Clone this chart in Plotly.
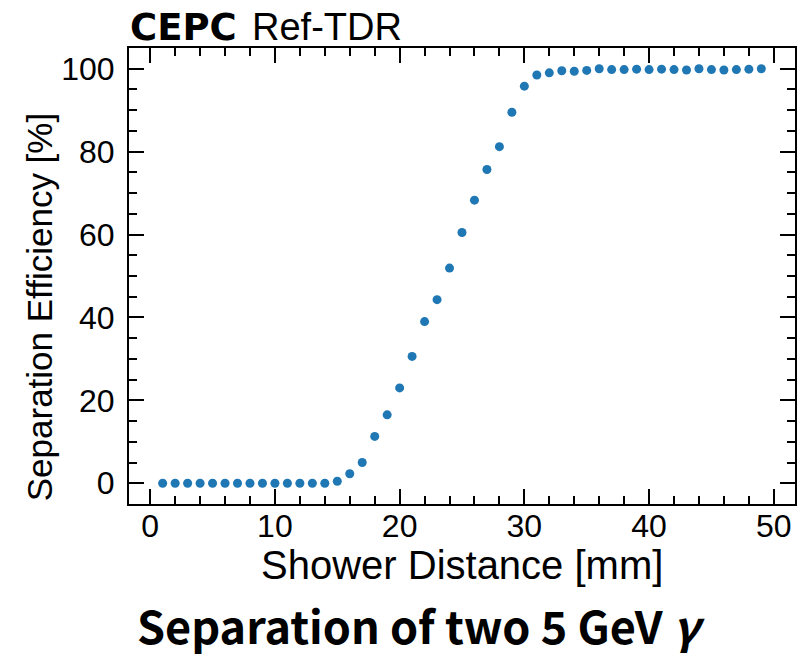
import plotly.graph_objects as go

distance_mm = list(range(1, 50))
efficiency_pct = [
    0.0, 0.0, 0.0, 0.0, 0.0, 0.0, 0.0, 0.0, 0.0, 0.0,
    0.0, 0.0, 0.0, 0.0, 0.5, 2.3, 5.0, 11.3, 16.5, 23.0,
    30.6, 39.0, 44.3, 51.9, 60.5, 68.3, 75.7, 81.2, 89.5, 95.8,
    98.5, 99.0, 99.5, 99.4, 99.6, 100.0, 99.8, 99.8, 99.9, 99.8,
    99.9, 99.8, 99.7, 100.0, 99.8, 99.7, 99.8, 99.9, 100.0,
]
x_ticks = [0, 10, 20, 30, 40, 50]
y_ticks = [0, 20, 40, 60, 80, 100]

W, H = 800, 656
L, R, T, B = 129, 797, 48, 504


def px(x):
    return (x - L) / (R - L)


def py(y):
    return (B - y) / (B - T)


fig = go.Figure()
fig.add_trace(go.Scatter(
    x=distance_mm, y=efficiency_pct, mode="markers",
    marker=dict(color="#1f77b4", size=9, line=dict(width=0)),
    showlegend=False,
))

tickfont = dict(family="Liberation Sans, Arial, sans-serif", size=32, color="black")
axis_common = dict(
    showline=True, linecolor="black", linewidth=2, mirror="allticks",
    ticks="inside", tickwidth=2, tickcolor="black",
    showgrid=False, zeroline=False, tickfont=tickfont,
)
fig.update_xaxes(
    range=[-1.7, 51.7], tickvals=x_ticks, ticklen=15,
    minor=dict(dtick=2, tick0=0, ticks="inside", ticklen=8, tickwidth=2, tickcolor="black", showgrid=False),
    ticklabelstandoff=-7,
    **axis_common,
)
fig.update_yaxes(
    range=[-5, 105], tickvals=y_ticks, ticklen=15,
    minor=dict(dtick=5, tick0=0, ticks="inside", ticklen=8, tickwidth=2, tickcolor="black", showgrid=False),
    ticklabelstandoff=6,
    **axis_common,
)

ann = []
ann.append(dict(text="<b>CEPC</b>", x=px(128), y=py(27), xref="paper", yref="paper",
                xanchor="left", yanchor="middle", showarrow=False,
                font=dict(family="DejaVu Sans, sans-serif", size=37, color="black")))
ann.append(dict(text="Ref-TDR", x=px(250), y=py(27), xref="paper", yref="paper",
                xanchor="left", yanchor="middle", showarrow=False,
                font=dict(family="Liberation Sans, Arial, sans-serif", size=38, color="black")))
ann.append(dict(text="Shower Distance [mm]", x=px(463), y=py(565), xref="paper", yref="paper",
                xanchor="center", yanchor="middle", showarrow=False,
                font=dict(family="Liberation Sans, Arial, sans-serif", size=40, color="black")))
ann.append(dict(text="Separation Efficiency [%]", x=px(40), y=py(307), xref="paper", yref="paper",
                xanchor="center", yanchor="middle", showarrow=False, textangle=-90,
                font=dict(family="Liberation Sans, Arial, sans-serif", size=35, color="black")))
ann.append(dict(text="<b>Separation of two 5 GeV <i>γ</i></b>", x=px(422), y=py(624), xref="paper", yref="paper",
                xanchor="center", yanchor="middle", showarrow=False,
                font=dict(family="Noto Sans CJK SC, Noto Sans, sans-serif", size=45, color="black")))

fig.update_layout(
    width=W, height=H,
    margin=dict(l=L, r=W - R, t=T, b=H - B),
    paper_bgcolor="white", plot_bgcolor="white",
    annotations=ann,
)
fig.write_html(
    "out.html",
    config={"displayModeBar": False},
    post_script="document.body.style.margin='0px';document.body.style.overflow='hidden';",
)
